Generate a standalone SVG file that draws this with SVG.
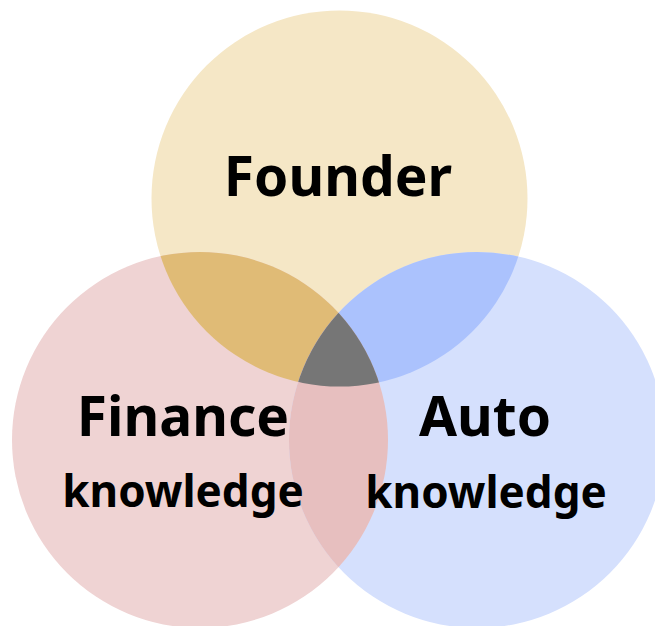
<svg xmlns="http://www.w3.org/2000/svg" width="655" height="626" viewBox="0 0 655 626">
<style>
.lbl{font-family:"Noto Sans","Liberation Sans",sans-serif;font-weight:bold;fill:#000;text-anchor:middle}
.big{font-size:55px}
.small{font-size:44px}
</style>
<defs>
<clipPath id="cTop"><circle cx="339.5" cy="198.5" r="188"/></clipPath>
<clipPath id="cLeft"><circle cx="200" cy="440" r="188"/></clipPath>
<clipPath id="cRight"><circle cx="477" cy="440" r="188"/></clipPath>
</defs>
<rect width="655" height="626" fill="#fff"/>
<g id="founder"><circle cx="339.5" cy="198.5" r="188" fill="#F5E7C6"/></g>
<g id="finance"><circle cx="200" cy="440" r="188" fill="#EFD3D3"/></g>
<g id="auto"><circle cx="477" cy="440" r="188" fill="#D5E0FD"/></g>
<g id="overlaps">
<g clip-path="url(#cTop)"><circle cx="200" cy="440" r="188" fill="#E0BB76"/><circle cx="477" cy="440" r="188" fill="#ABC2FD"/></g>
<g clip-path="url(#cLeft)"><circle cx="477" cy="440" r="188" fill="#E7BFBF"/></g>
<g clip-path="url(#cLeft)"><g clip-path="url(#cRight)"><circle cx="339.5" cy="198.5" r="188" fill="#767676"/></g></g>
</g>
<g id="labels">
<text class="lbl big" x="338" y="196">Founder</text>
<text class="lbl big" x="183" y="436">Finance</text>
<text class="lbl small" x="183" y="507">knowledge</text>
<text class="lbl big" x="485" y="436">Auto</text>
<text class="lbl small" x="486" y="508">knowledge</text>
</g>
</svg>
